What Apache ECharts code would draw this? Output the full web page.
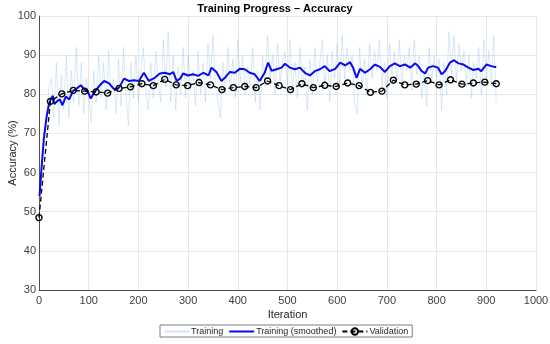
<!DOCTYPE html>
<html><head><meta charset="utf-8">
<script src="https://cdn.jsdelivr.net/npm/echarts@6/dist/echarts.min.js"></script>
<style>html,body{margin:0;padding:0;background:#fff}#c{width:550px;height:344px}</style>
</head><body><div id="c"></div>
<script>
// Raw training accuracy, sampled every 5 iterations starting at 0
const rawStep = 5;
const rawValues = [50,60,68,75,82,84,74,88,72,85,76,90,74,86,78,92,77,88,75,84,
80,73,86,78,90,79,88,76,91,80,84,75,89,77,92,80,72,88,79,90,
78,86,92,80,76,88,79,91,83,78,94,82,96,78,90,76,87,80,92,79,
90,81,86,77,91,80,88,78,93,84,95,82,78,74,88,80,92,81,89,79,
94,83,90,80,87,82,92,78,86,76,90,82,95,84,90,80,93,83,88,91,
82,94,81,88,79,92,82,87,76,89,80,92,83,88,94,82,90,78,91,84,
93,82,95,84,92,86,90,78,75,92,82,89,80,93,84,91,86,94,82,88,
79,93,85,91,83,94,82,90,86,92,81,94,85,90,79,86,77,92,83,90,
84,89,76,88,80,96,85,95,83,93,86,91,82,90,79,88,84,92,80,94,
84,91,82,95,78];
// Smoothed training accuracy (iteration, value)
const smoothIter = [1,5,10,15,20,24,28,31,36,42,47,54,61,68,74,84,91,98,104,111,121,131,141,151,161,171,181,191,201,211,221,233,243,253,263,270,277,284,290,300,310,320,331,341,347,357,367,374,384,394,404,414,424,434,444,454,461,468,478,488,495,505,515,525,535,545,555,565,575,585,596,606,616,626,632,639,646,656,666,676,686,696,706,716,726,737,747,757,763,770,777,783,793,803,810,817,827,835,844,854,864,874,884,890,900,910,920];
const smoothValues = [54,61,69,74,77.5,78.8,79.6,77.5,78.2,78.7,77.2,79.4,78.7,80.8,81.3,82.3,81.3,80.8,78.9,80.4,82.1,83.4,82.8,81.3,81.7,84.0,83.4,83.6,83.4,85.5,83.4,84.2,85.3,85.5,85.1,85.7,83.4,84.0,85.3,84.8,85.1,84.7,85.5,84.8,86.8,85.7,83.4,84.2,85.7,85.5,86.5,86.4,85.5,85.1,83.4,85.5,88.1,86.0,86.4,86.8,87.8,86.8,86.4,86.8,85.5,84.8,85.9,86.4,87.2,85.9,86.5,88.1,87.4,88.2,86.8,84.2,86.5,85.5,86.4,87.6,87.0,85.7,87.2,87.9,87.2,87.6,86.8,87.9,87.2,85.9,85.3,86.8,87.2,86.8,85.1,85.9,88.1,88.7,87.9,87.6,86.8,86.2,86.5,85.9,87.6,87.2,86.9];
// Validation accuracy, every 23 iterations from 0
const valStep = 23;
const valValues = [48.5,78.2,80.1,81.0,80.8,80.6,80.3,81.5,81.9,82.7,82.2,83.8,82.4,82.2,83.0,82.4,81.2,81.7,82.0,81.7,83.4,82.2,81.2,82.7,81.7,82.3,82.0,82.9,82.2,80.5,80.8,83.6,82.4,82.6,83.5,82.4,83.7,82.6,82.9,83.1,82.7];
const xTicks = [0,100,200,300,400,500,600,700,800,900,1000];
const yTicks = [30,40,50,60,70,80,90,100];

const rawData = rawValues.map((v,i)=>[i*rawStep, v]);
const smoothData = smoothIter.map((x,i)=>[x, smoothValues[i]]);
const valData = valValues.map((v,i)=>[i*valStep, v]);

const font = 'Liberation Sans, Arial, sans-serif';
const chart = echarts.init(document.getElementById('c'), null, {renderer:'canvas'});
chart.setOption({
  animation:false,
  backgroundColor:'#fff',
  title:{text:'Training Progress \u2013 Accuracy', left:'center', top:0, padding:[3,5],
    textStyle:{fontFamily:font, fontSize:11, fontWeight:'bold', color:'#000'}},
  grid:{left:39, right:14, top:16, bottom:54, containLabel:false, outerBoundsMode:'none'},
  xAxis:{type:'value', min:xTicks[0], max:xTicks[xTicks.length-1], interval:100,
    name:'Iteration', nameLocation:'middle', nameGap:19, nameMoveOverlap:false,
    nameTextStyle:{fontFamily:font, fontSize:11, color:'#262626'},
    axisLine:{show:true, onZero:false, lineStyle:{color:'#4d4d4d', width:1}},
    axisTick:{show:false},
    axisLabel:{fontFamily:font, fontSize:11, color:'#404040', margin:5, formatter:v=>String(v)},
    splitLine:{show:true, lineStyle:{color:'#e6e6e6', width:1}}},
  yAxis:{type:'value', min:yTicks[0], max:yTicks[yTicks.length-1], interval:10,
    name:'Accuracy (%)', nameLocation:'middle', nameGap:21, nameMoveOverlap:false,
    nameTextStyle:{fontFamily:font, fontSize:11, color:'#262626'},
    axisLine:{show:true, onZero:false, lineStyle:{color:'#4d4d4d', width:1}},
    axisTick:{show:false},
    axisLabel:{fontFamily:font, fontSize:11, color:'#404040', margin:3, formatter:v=>String(v)},
    splitLine:{show:true, lineStyle:{color:'#e6e6e6', width:1}}},
  legend:{left:160, top:325, orient:'horizontal', itemWidth:25, itemHeight:8, itemGap:5,
    padding:[2,4,1,3], borderColor:'#7f7f7f', borderWidth:1, backgroundColor:'#fff',
    textStyle:{fontFamily:font, fontSize:9, color:'#262626', padding:[0,0,0,-3]},
    data:['Training','Training (smoothed)','Validation']},
  series:[
    {name:'Training', type:'line', data:rawData, showSymbol:false, symbol:'none',
      lineStyle:{color:'rgba(120,175,235,0.35)', width:0.8}, itemStyle:{color:'rgba(0,0,0,0)', borderWidth:0}, z:1},
    {name:'Training (smoothed)', type:'line', data:smoothData, showSymbol:false, symbol:'none',
      lineStyle:{color:'#0a0af0', width:2}, itemStyle:{color:'rgba(0,0,0,0)', borderWidth:0}, z:2},
    {name:'Validation', type:'line', data:valData, symbol:'circle', symbolSize:6,
      lineStyle:{color:'#000', width:1.3, type:[5,3]},
      itemStyle:{color:'rgba(255,255,255,0)', borderColor:'#000', borderWidth:1.4}, z:3}
  ]
});
</script></body></html>
